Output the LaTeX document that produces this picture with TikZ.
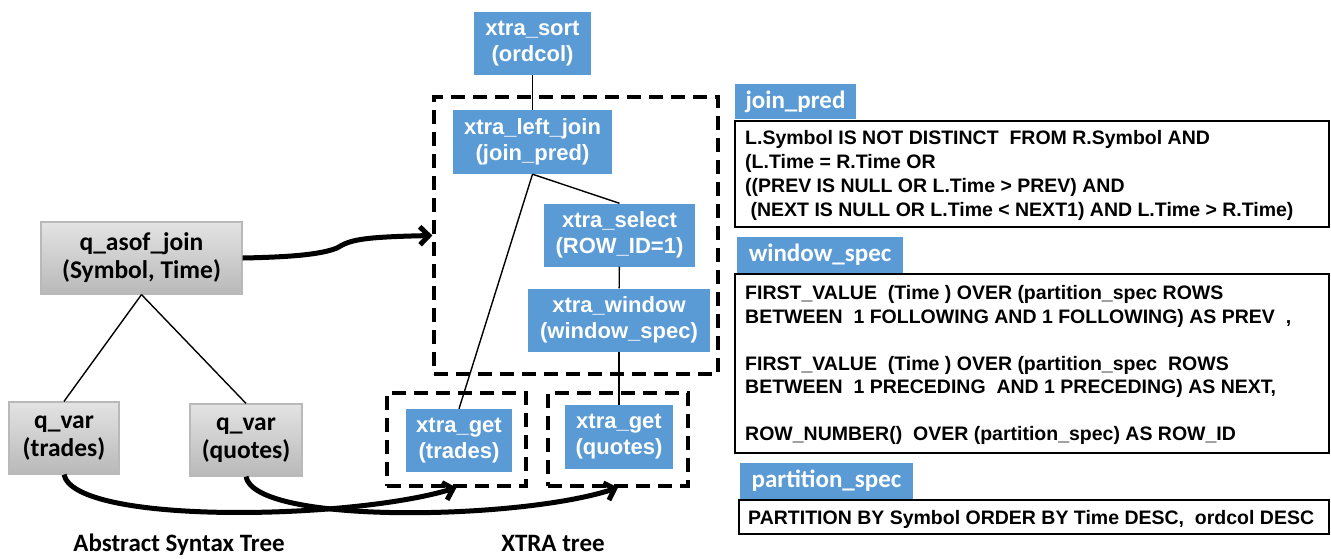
\documentclass[tikz,border=0pt]{standalone}
\usepackage{fontspec}
\setmainfont{Liberation Sans}
\newfontfamily\calfont{Carlito}
\usetikzlibrary{arrows.meta}
\definecolor{blueC}{HTML}{5B9BD5}
\begin{document}
\begin{tikzpicture}[x=1pt,y=-1pt,
  xnode/.style={fill=blueC,text=white,font=\bfseries\fontsize{22}{26}\selectfont,align=center,inner sep=0pt},
  gnode/.style={top color=gray!22,bottom color=gray!55,draw=gray!55,line width=1.2pt,font=\calfont\bfseries\fontsize{25.5}{28}\selectfont,align=center,inner sep=0pt},
  dbox/.style={draw,line width=3.2pt,dash pattern=on 14pt off 8pt,inner sep=0pt},
  conn/.style={line width=1.4pt},
  bigarrow/.style={line width=5pt,-{Straight Barb[length=9pt,width=18pt]}},
  lbl/.style={fill=blueC,text=white,font=\calfont\bfseries\fontsize{25}{28}\selectfont,inner sep=0pt},
  codebox/.style={draw,line width=1.8pt,inner sep=0pt},
  code/.style={font=\bfseries\fontsize{19.5}{23}\selectfont,inner sep=0pt,anchor=base west},
  capt/.style={font=\calfont\bfseries\fontsize{25}{28}\selectfont,inner sep=0pt,anchor=base}
]
\useasboundingbox (0,0) rectangle (1331,558);

% dashed group boxes
\node[dbox,minimum width=284pt,minimum height=277pt] (big) at (576,235.5) {};
\node[dbox,minimum width=139pt,minimum height=93pt] (trbox) at (456.5,439.5) {};
\node[dbox,minimum width=140pt,minimum height=93pt] (qbox) at (618,439.5) {};

% XTRA tree nodes
\node[xnode,minimum width=117pt,minimum height=63pt] (sort) at (532.5,43.5) {xtra\_sort\\(ordcol)};
\node[xnode,minimum width=159pt,minimum height=64pt] (ljoin) at (532.5,142) {xtra\_left\_join\\(join\_pred)};
\node[xnode,minimum width=151pt,minimum height=63pt] (sel) at (619.5,235) {xtra\_select\\(ROW\_ID=1)};
\node[xnode,minimum width=182pt,minimum height=63pt] (win) at (619,320) {xtra\_window\\(window\_spec)};
\node[xnode,minimum width=106pt,minimum height=63pt] (gett) at (459,440.5) {xtra\_get\\(trades)};
\node[xnode,minimum width=108pt,minimum height=64pt] (getq) at (619,437) {xtra\_get\\(quotes)};

\draw[conn] (sort) -- (ljoin);
\draw[conn] (ljoin.south) -- (sel.north);
\draw[conn] (ljoin.south) -- (gett.north);
\draw[conn] (sel) -- (win);
\draw[conn] (win) -- (getq);

% AST nodes
\node[gnode,minimum width=201pt,minimum height=72pt] (qaj) at (141.5,258) {q\_asof\_join\\(Symbol, Time)};
\node[gnode,minimum width=110pt,minimum height=72pt] (qvt) at (64,438) {q\_var\\(trades)};
\node[gnode,minimum width=112pt,minimum height=72pt] (qvq) at (246,440) {q\_var\\(quotes)};

\draw[conn] (qaj.south) -- (qvt.north);
\draw[conn] (qaj.south) -- (qvq.north);

% thick arrows
\draw[bigarrow] (qaj.east) .. controls (295,257) and (322,254) .. (337,248) .. controls (350,240) and (360,237) .. (big.west);
\draw[bigarrow] (qvt.south) .. controls (75,525) and (350,520) .. (trbox.south);
\draw[bigarrow] (qvq.south) .. controls (255,525) and (520,520) .. (qbox.south);

% captions
\node[capt] (astcap) at (179,551) {Abstract Syntax Tree};
\node[capt] (xtracap) at (553,551) {XTRA tree};

% right panel
\node[codebox,minimum width=594pt,minimum height=106pt] (jpbox) at (1032,174) {};
\node[lbl,minimum width=121pt,minimum height=35pt] (jplbl) at (795.5,101.5) {join\_pred};
\foreach \t [count=\i] in {{L.Symbol IS NOT DISTINCT\ \ FROM R.Symbol AND},{(L.Time = R.Time OR},{((PREV IS NULL OR L.Time > PREV)\ AND},{\ (NEXT\ IS NULL OR L.Time < NEXT1) AND L.Time > R.Time)}}
  \node[code] (jp\i) at (745,{144+24*(\i-1)}) {\t};

\node[codebox,minimum width=594pt,minimum height=179pt] (wsbox) at (1032,363.5) {};
\node[lbl,minimum width=166pt,minimum height=36pt] (wslbl) at (820,255) {window\_spec};
\node[code] (ws1) at (745,299) {FIRST\_VALUE\ \ (Time ) OVER (partition\_spec ROWS};
\node[code] (ws2) at (745,323) {BETWEEN\ \ 1 FOLLOWING AND 1 FOLLOWING) AS PREV\ \ ,};
\node[code] (ws3) at (745,370) {FIRST\_VALUE\ \ (Time ) OVER (partition\_spec\ \ ROWS};
\node[code] (ws4) at (745,393) {BETWEEN\ \ 1 PRECEDING\ \ AND 1 PRECEDING)\ AS NEXT,};
\node[code] (ws5) at (745,440) {ROW\_NUMBER()\ \ OVER (partition\_spec) AS ROW\_ID};

\node[codebox,minimum width=590pt,minimum height=34pt] (psbox) at (1034,517) {};
\node[lbl,minimum width=173pt,minimum height=36pt] (pslbl) at (826.5,481) {partition\_spec};
\node[code] (ps1) at (748,524) {PARTITION BY Symbol ORDER BY Time DESC,\ \ ordcol DESC};
\end{tikzpicture}
\end{document}
